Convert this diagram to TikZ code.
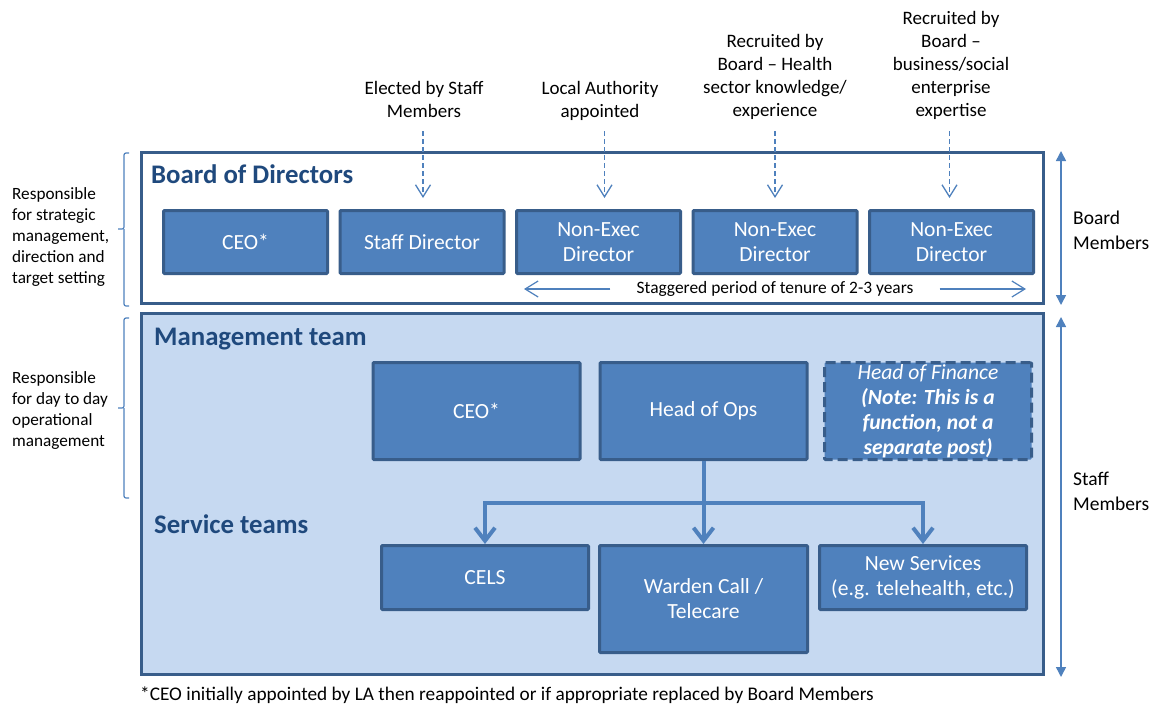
\documentclass[tikz,border=0pt]{standalone}
\usepackage{fontspec}
\setmainfont{Carlito}
\usetikzlibrary{positioning,chains,arrows.meta}
\definecolor{boxfill}{HTML}{4F81BD}
\definecolor{boxline}{HTML}{385D8A}
\definecolor{mgmtfill}{HTML}{C6D9F1}
\definecolor{headblue}{HTML}{1F497D}
\newcommand\boxtxt{\fontsize{21.6}{25}\selectfont}
\newcommand\headtxt{\fontsize{26.8}{30}\selectfont\bfseries}
\newcommand\notetxt{\fontsize{19}{23}\selectfont}
\newcommand\sidetxt{\fontsize{17.2}{21}\selectfont}
\newcommand\memtxt{\fontsize{19.5}{24.5}\selectfont}
\newcommand\tentxt{\fontsize{17.4}{20}\selectfont}
\newcommand\foottxt{\fontsize{19.3}{21}\selectfont}
\begin{document}
\begin{tikzpicture}[x=1pt,y=-1pt,
    panel/.style={draw=boxline,line width=3pt,minimum width=902pt},
    bbox/.style={draw=boxline,fill=boxfill,line width=3pt,rounded corners=1pt,
        text=white,align=center,font=\boxtxt,inner sep=0pt},
    boardbox/.style={bbox,minimum width=164pt,minimum height=63pt,on chain},
    mbox/.style={bbox,minimum width=207pt,minimum height=97pt},
    sbox/.style={bbox,minimum width=207pt,minimum height=64pt},
    head/.style={anchor=base west,text=headblue,font=\headtxt,inner sep=0pt},
    note/.style={align=center,font=\notetxt,inner sep=0pt,anchor=north},
    side/.style={align=left,font=\sidetxt,inner sep=0pt,anchor=north west},
    elect/.style={draw=boxfill,line width=1.3pt,dash pattern=on 5pt off 3pt,
        -{Straight Barb[length=12pt,width=15pt]},shorten >=11pt},
    tree/.style={draw=boxfill,line width=4pt,-{Straight Barb[length=13pt,width=20pt]}},
    tenarrow/.style={draw=boxfill,line width=1.2pt,-{Straight Barb[length=13pt,width=16pt]}},
    memarrow/.style={draw=boxfill,line width=1.5pt,
        {Triangle[length=10pt,width=10pt]}-{Triangle[length=10pt,width=10pt]}},
    brk/.style={draw=boxfill,line width=1.2pt,rounded corners=2pt}
    ]
\useasboundingbox (0,0) rectangle (1162,707);
\node[panel,fill=white,minimum height=151pt] (boardpanel) at (592.5,228) {};
\node[panel,fill=mgmtfill,minimum height=361pt] (mgmtpanel) at (592.5,494) {};
\node[head] (boardhead) at (151,183) {Board of Directors};
\node[head] (mgmthead) at (154,345) {Management team};
\node[head] (svchead) at (154,533) {Service teams};
\path[start chain=board going right,node distance=9.5pt]
  node[boardbox,anchor=north west] (ceoB) at (162,209) {CEO*}
  node[boardbox] (staff) {Staff Director}
  node[boardbox] (nedA) {Non-Exec\\Director}
  node[boardbox] (nedB) {Non-Exec\\Director}
  node[boardbox] (nedC) {Non-Exec\\Director};
\node[note] (lblStaff) at (424,81) {Elected by Staff\\Members};
\node[note] (lblLA) at (600,81) {Local Authority\\appointed};
\node[note] (lblHealth) at (775,34) {Recruited by\\Board -- Health\\sector knowledge/\\experience};
\node[note] (lblBiz) at (951,11) {Recruited by\\Board --\\business/social\\enterprise\\expertise};
\foreach \b/\dx in {staff/1,nedA/6,nedB/0,nedC/-2}
  \draw[elect] ([xshift=\dx pt,yshift=78pt]\b.north) -- ([xshift=\dx pt]\b.north);
\node[font=\tentxt,inner sep=0pt] (tenure) at (775,289) {Staggered period of tenure of 2-3 years};
\coordinate (tenL) at (524,289);
\coordinate (tenR) at (1026,289);
\draw[tenarrow] ([xshift=-26pt]tenure.west) -- (tenL);
\draw[tenarrow] ([xshift=26pt]tenure.east) -- (tenR);
\node[mbox] (ceoM) at (476.5,411) {CEO*};
\node[mbox] (ops) at (703.5,411) {Head of Ops};
\node[mbox,dash pattern=on 10pt off 5pt] (fin) at (928,411)
  {\textit{Head of Finance}\\\textbf{\textit{(Note: This is a}}\\
   \textbf{\textit{function, not a}}\\\textbf{\textit{separate post)}}};
\node[sbox] (cels) at (485,577.5) {CELS};
\node[bbox,minimum width=208pt,minimum height=107pt] (warden) at (703.5,599) {Warden Call /\\Telecare};
\node[sbox] (newsvc) at (923,577.5) {New Services\\(e.g. telehealth, etc.)};
\draw[tree,-] (ops.south) -- ++(0,42) coordinate (fork);
\draw[tree] (fork) -| (cels.north);
\draw[tree] (fork) -- (warden.north);
\draw[tree] (fork) -| (newsvc.north);
\node[side] (sideB) at (12,187) {Responsible\\for strategic\\management,\\direction and\\target setting};
\node[side] (sideM) at (12,371) {Responsible\\for day to day\\operational\\management};
\draw[brk] (129,153) -| (124,229) -- (118,229) (124,229) |- (129,306);
\draw[brk] (129,318) -| (124,408) -- (118,408) (124,408) |- (129,498);
\draw[memarrow] ([xshift=16pt]boardpanel.north east) -- ([xshift=16pt]boardpanel.south east);
\draw[memarrow] ([xshift=16pt,yshift=-5pt]mgmtpanel.north east) -- ([xshift=16pt,yshift=-1pt]mgmtpanel.south east);
\node[side,font=\memtxt] (lblBoard) at (1073,211) {Board\\Members};
\node[side,font=\memtxt] (lblStaffM) at (1073,472) {Staff\\Members};
\node[anchor=base west,inner sep=0pt,font=\foottxt] (foot) at (140,700)
  {*CEO initially appointed by LA then reappointed or if appropriate replaced by Board Members};
\end{tikzpicture}
\end{document}
